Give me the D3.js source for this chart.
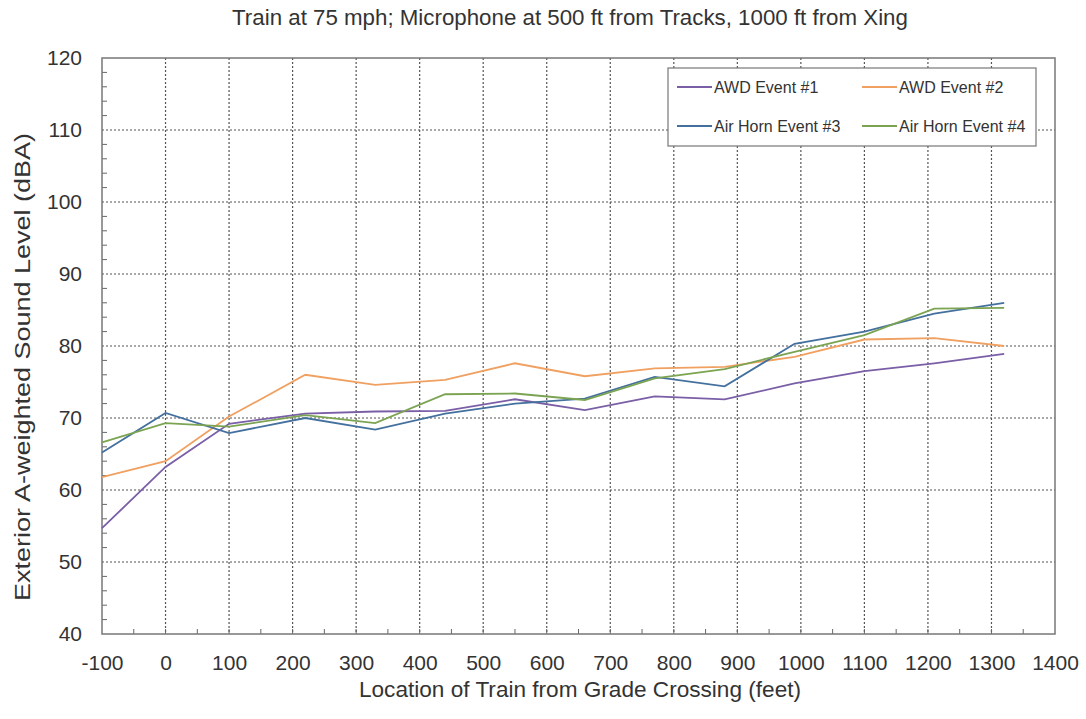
<!DOCTYPE html>
<html><head><meta charset="utf-8">
<script src="https://cdn.jsdelivr.net/npm/d3@7"></script>
<style>
body{margin:0;background:#fff;}
text{font-family:"Liberation Sans",Arial,sans-serif;fill:#333;}
</style></head><body>
<svg id="c" width="1086" height="719"></svg>
<script>
const xVals = [-100, 0, 100, 220, 330, 440, 550, 660, 770, 880, 990, 1100, 1210, 1320];
const awd1 = [54.7, 63.2, 69.2, 70.6, 70.9, 71.0, 72.6, 71.1, 73.0, 72.6, 74.8, 76.5, 77.6, 78.9];
const awd2 = [61.8, 64.0, 70.2, 76.0, 74.6, 75.3, 77.6, 75.8, 76.9, 77.1, 78.5, 80.9, 81.1, 80.0];
const horn3 = [65.2, 70.7, 67.9, 70.0, 68.4, 70.6, 72.0, 72.7, 75.7, 74.4, 80.3, 82.0, 84.5, 86.0];
const horn4 = [66.6, 69.3, 68.8, 70.4, 69.3, 73.3, 73.4, 72.5, 75.5, 76.8, 79.2, 81.5, 85.2, 85.3];
const seriesNames = ["AWD Event #1", "AWD Event #2", "Air Horn Event #3", "Air Horn Event #4"];
const seriesColors = ["#7a5ea6", "#f0a060", "#44709e", "#7ba452"];
const xTicks = d3.range(-100, 1401, 100);
const yTicks = d3.range(40, 121, 10);
const title = "Train at 75 mph; Microphone at 500 ft from Tracks, 1000 ft from Xing";
const xLabel = "Location of Train from Grade Crossing (feet)";
const yLabel = "Exterior A-weighted Sound Level (dBA)";

const svg = d3.select("#c");
const L = 102, R = 1055, T = 58, B = 634;
const x = d3.scaleLinear().domain([-100, 1400]).range([L, R]);
const y = d3.scaleLinear().domain([40, 120]).range([B, T]);

// gridlines
const g = svg.append("g");
g.selectAll("line.vx").data(xTicks.slice(1, -1)).join("line")
  .attr("x1", d => x(d)).attr("x2", d => x(d)).attr("y1", T).attr("y2", B)
  .attr("stroke", "#555").attr("stroke-width", 1.2).attr("stroke-dasharray", "2,2");
g.selectAll("line.hy").data(yTicks.slice(1, -1)).join("line")
  .attr("y1", d => y(d)).attr("y2", d => y(d)).attr("x1", L).attr("x2", R)
  .attr("stroke", "#555").attr("stroke-width", 1.2).attr("stroke-dasharray", "2,2");

// axes
const fmt = d => String(d);
const xAxis = d3.axisBottom(x).tickValues(xTicks).tickFormat(fmt).tickSize(0).tickPadding(21);
const yAxis = d3.axisLeft(y).tickValues(yTicks).tickFormat(fmt).tickSize(0).tickPadding(20);
const gx = svg.append("g").attr("transform", `translate(0,${B})`).call(xAxis);
const gy = svg.append("g").attr("transform", `translate(${L},0)`).call(yAxis);
[gx, gy].forEach(a => { a.select(".domain").remove(); a.selectAll("text").attr("font-size", 21).attr("fill", "#333")
  .style("font-family", "'Liberation Sans',Arial,sans-serif"); });

// minor ticks
svg.append("g").selectAll("line").data(d3.range(-50, 1400, 50)).join("line")
  .attr("x1", d => x(d)).attr("x2", d => x(d)).attr("y1", B).attr("y2", B - 5)
  .attr("stroke", "#666").attr("stroke-width", 1);
svg.append("g").selectAll("line").data(d3.range(42, 120, 2).filter(v => v % 10 !== 0)).join("line")
  .attr("x1", L).attr("x2", L + 5).attr("y1", d => y(d)).attr("y2", d => y(d))
  .attr("stroke", "#666").attr("stroke-width", 1);

// border
svg.append("rect").attr("x", L).attr("y", T).attr("width", R - L).attr("height", B - T)
  .attr("fill", "none").attr("stroke", "#777").attr("stroke-width", 1.5);

// lines
const data = [awd1, awd2, horn3, horn4];
const line = d3.line().x((d, i) => x(xVals[i])).y(d => y(d));
svg.append("g").selectAll("path").data(data).join("path")
  .attr("d", line).attr("fill", "none")
  .attr("stroke", (d, i) => seriesColors[i]).attr("stroke-width", 1.8);

// legend
const lg = svg.append("g");
lg.append("rect").attr("x", 668).attr("y", 68).attr("width", 368).attr("height", 78)
  .attr("fill", "#fff").attr("stroke", "#777").attr("stroke-width", 1.2);
seriesNames.forEach((n, i) => {
  const cx = i % 2 === 0 ? 677 : 862;
  const cy = i < 2 ? 87 : 126;
  lg.append("line").attr("x1", cx).attr("x2", cx + 35).attr("y1", cy).attr("y2", cy)
    .attr("stroke", seriesColors[i]).attr("stroke-width", 1.8);
  lg.append("text").attr("x", cx + 37).attr("y", cy + 5.5).attr("font-size", 16).text(n);
});

// titles
svg.append("text").attr("x", 570).attr("y", 25).attr("text-anchor", "middle").attr("font-size", 22.3).text(title);
svg.append("text").attr("x", 580).attr("y", 697).attr("text-anchor", "middle").attr("font-size", 22.6).text(xLabel);
svg.append("text").attr("transform", `translate(30,367) scale(1,1.2) rotate(-90)`).attr("text-anchor", "middle")
  .attr("font-size", 22.5).text(yLabel);
</script></body></html>
